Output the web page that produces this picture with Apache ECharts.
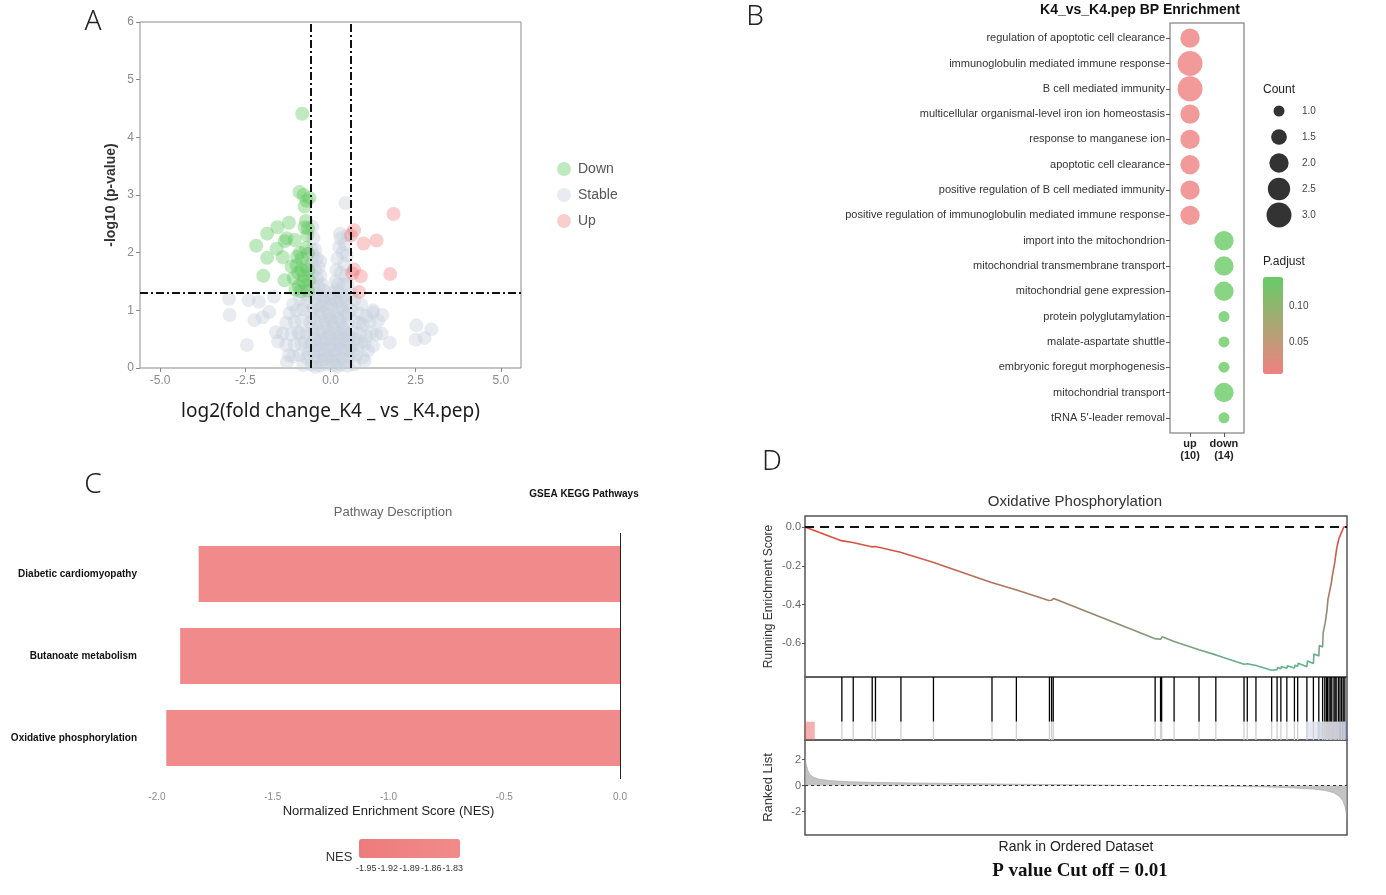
<!DOCTYPE html>
<html>
<head>
<meta charset="utf-8">
<script src="https://cdn.jsdelivr.net/npm/echarts@6/dist/echarts.min.js"></script>
<style>
  html, body { margin: 0; padding: 0; background: #fff; }
  #main { width: 1386px; height: 895px; }
</style>
</head>
<body>
<div id="main"></div>
<script>
// ---- A: volcano, [log2FC, -log10 p] ----
const downPoints = [
  [-0.83, 4.41], [-0.91, 3.05], [-0.79, 3.0], [-0.7, 2.9], [-0.62, 2.95], [-0.76, 2.8],
  [-1.56, 2.44], [-1.86, 2.33], [-1.22, 2.52], [-0.72, 2.55], [-0.66, 2.42], [-0.76, 2.44],
  [-1.29, 2.25], [-1.05, 2.22], [-2.18, 2.12], [-1.58, 2.07], [-1.4, 1.92], [-1.86, 1.91],
  [-1.97, 1.6], [-1.35, 1.52], [-1.0, 1.78], [-0.84, 1.9], [-0.72, 2.08], [-1.08, 1.56],
  [-0.93, 1.42], [-0.78, 1.6], [-0.72, 1.76], [-0.66, 1.98], [-0.98, 1.93], [-0.72, 1.44],
  [-0.63, 1.52], [-0.88, 1.33], [-1.03, 1.36], [-0.66, 1.34], [-1.14, 1.76], [-1.34, 2.2],
  [-0.85, 1.7], [-0.95, 1.65], [-0.8, 1.5], [-0.65, 1.7], [-0.9, 2.0], [-0.68, 2.3]
];
const upPoints = [
  [1.85, 2.67], [0.69, 2.39], [0.6, 2.3], [0.97, 2.16], [1.35, 2.21],
  [0.69, 1.71], [0.89, 1.59], [1.75, 1.63], [0.84, 1.32], [0.64, 1.64]
];
const stablePoints = [
  [-2.98, 1.2], [-2.96, 0.92], [-2.4, 1.18], [-2.1, 1.15], [-1.66, 1.24], [-2.23, 0.83],
  [-1.99, 0.88], [-1.8, 0.97], [-2.45, 0.4], [-1.6, 0.62], [-1.54, 0.46], [-1.22, 0.22],
  [-1.28, 0.1], [2.52, 0.74], [2.96, 0.67], [2.5, 0.49], [2.76, 0.52], [1.74, 0.44],
  [1.24, 0.96], [1.52, 0.92], [1.34, 0.58], [0.86, 0.78], [1.1, 0.3], [1.0, 0.12],
  [0.44, 2.86], [0.28, 2.33], [-0.53, 2.45], [0.5, 2.3],
  [-0.5, 2.25], [-0.45, 2.05], [-0.4, 1.9], [-0.35, 1.75], [-0.3, 1.6], [-0.25, 1.45],
  [-0.5, 1.95], [-0.45, 1.7], [-0.4, 1.55], [-0.55, 1.6], [-0.5, 1.4], [-0.35, 1.4],
  [-0.2, 1.35], [-0.55, 2.05], [-0.3, 1.85], [-0.55, 1.8],
  [0.3, 2.25], [0.25, 2.1], [0.2, 1.9], [0.17, 1.7], [0.15, 1.5], [0.35, 2.0], [0.4, 1.8],
  [0.45, 1.6], [0.3, 1.65], [0.22, 1.45], [0.5, 1.45], [0.38, 1.45], [0.42, 2.15],
  [0.48, 1.95], [0.15, 1.35],
  [-0.9, 1.2], [-0.7, 1.15], [-0.45, 1.2], [-0.2, 1.22], [0, 1.2], [0.2, 1.15], [0.45, 1.2],
  [0.7, 1.18], [0.9, 1.1], [-1.1, 1.1],
  [-1.2, 0.95], [-1.0, 1.0], [-0.8, 1.02], [-0.6, 0.98], [-0.35, 1.0], [-0.1, 1.05],
  [0.1, 0.98], [0.35, 1.02], [0.6, 1.0], [0.85, 0.95], [1.05, 0.9], [1.25, 1.0],
  [-1.3, 0.78], [-1.05, 0.8], [-0.85, 0.82], [-0.6, 0.8], [-0.4, 0.78], [-0.15, 0.82],
  [0.05, 0.8], [0.3, 0.8], [0.5, 0.78], [0.75, 0.8], [0.95, 0.75], [1.15, 0.8], [1.4, 0.82],
  [-1.4, 0.6], [-1.15, 0.58], [-0.95, 0.62], [-0.7, 0.6], [-0.5, 0.6], [-0.25, 0.62],
  [0, 0.6], [0.25, 0.6], [0.45, 0.58], [0.65, 0.62], [0.85, 0.6], [1.05, 0.55], [1.2, 0.62],
  [1.5, 0.6],
  [-1.3, 0.4], [-1.05, 0.4], [-0.85, 0.42], [-0.6, 0.38], [-0.4, 0.4], [-0.2, 0.42],
  [0.0, 0.4], [0.2, 0.4], [0.4, 0.42], [0.6, 0.38], [0.8, 0.4], [1.0, 0.42], [1.25, 0.38],
  [-1.1, 0.2], [-0.9, 0.22], [-0.7, 0.18], [-0.45, 0.2], [-0.25, 0.22], [-0.05, 0.2],
  [0.15, 0.22], [0.35, 0.18], [0.55, 0.2], [0.75, 0.22], [0.95, 0.18],
  [-0.8, 0.05], [-0.55, 0.06], [-0.3, 0.04], [-0.1, 0.06], [0.1, 0.05], [0.3, 0.06],
  [0.5, 0.04], [0.7, 0.06],
  [-0.45, 1.3], [-0.3, 1.25], [-0.15, 1.15], [0.05, 1.3], [0.25, 1.3], [0.4, 1.25],
  [-0.3, 0.9], [-0.05, 0.92], [0.2, 0.9], [0.45, 0.9], [-0.45, 0.5], [-0.15, 0.5],
  [0.1, 0.5], [0.35, 0.5], [-0.35, 0.3], [-0.1, 0.3], [0.15, 0.3], [0.45, 0.3],
  [-0.2, 0.7], [0.1, 0.7], [0.35, 0.7], [-0.4, 1.1], [0.25, 1.05], [-0.25, 0.12], [0.2, 0.12],
  [-0.5, 1.05], [-0.25, 1.08], [0.0, 1.1], [0.12, 1.2], [0.32, 1.15], [0.5, 1.08],
  [-0.5, 0.85], [-0.25, 0.95], [0.0, 0.85], [0.25, 0.85], [0.5, 0.95], [-0.55, 0.7],
  [-0.35, 0.65], [-0.1, 0.72], [0.15, 0.62], [0.4, 0.66], [0.55, 0.55], [-0.55, 0.45],
  [-0.3, 0.48], [-0.05, 0.52], [0.25, 0.45], [0.5, 0.47], [-0.5, 0.28], [-0.2, 0.32],
  [0.05, 0.3], [0.3, 0.33], [0.55, 0.3], [-0.4, 0.12], [-0.15, 0.15], [0.05, 0.12],
  [0.4, 0.1], [-0.45, 0.02], [0.2, 0.02], [-0.65, 1.25], [0.62, 1.28], [-0.75, 0.45],
  [0.7, 0.5], [-0.9, 0.6], [0.9, 0.45], [-0.65, 0.25], [0.65, 0.28]
];
const fcCut = 0.585;
const pCut = 1.301;
const volcanoTicks = [-5, -2.5, 0, 2.5, 5];

// ---- B: BP enrichment dot plot ----
const bpTerms = [
  'regulation of apoptotic cell clearance',
  'immunoglobulin mediated immune response',
  'B cell mediated immunity',
  'multicellular organismal-level iron ion homeostasis',
  'response to manganese ion',
  'apoptotic cell clearance',
  'positive regulation of B cell mediated immunity',
  'positive regulation of immunoglobulin mediated immune response',
  'import into the mitochondrion',
  'mitochondrial transmembrane transport',
  'mitochondrial gene expression',
  'protein polyglutamylation',
  'malate-aspartate shuttle',
  'embryonic foregut morphogenesis',
  'mitochondrial transport',
  "tRNA 5'-leader removal"
];
const bpGroup = [0, 0, 0, 0, 0, 0, 0, 0, 1, 1, 1, 1, 1, 1, 1, 1];
const bpCount = [2, 3, 3, 2, 2, 2, 2, 2, 2, 2, 2, 1, 1, 1, 2, 1];
const bpPadj = [0.008, 0.008, 0.008, 0.008, 0.008, 0.008, 0.008, 0.008,
                0.138, 0.138, 0.138, 0.138, 0.138, 0.138, 0.138, 0.138];
const bpGroups = ['up\n(10)', 'down\n(14)'];
const countLevels = ['1.0', '1.5', '2.0', '2.5', '3.0'];
const padjTicks = [0.10, 0.05];
const padjMin = 0.0057, padjMax = 0.141;

// ---- C: GSEA KEGG bars ----
const pathways = ['Diabetic cardiomyopathy', 'Butanoate metabolism', 'Oxidative phosphorylation'];
const nesValues = [-1.82, -1.90, -1.96];
const nesLegendTicks = [-1.95, -1.92, -1.89, -1.86, -1.83];
const nesMin = -1.96, nesMax = -1.82;

// ---- D: GSEA running score ----
const esCurve = [
  [0, 0], [67, -0.07], [68, -0.062], [88, -0.08], [89, -0.072], [123, -0.102], [124, -0.095],
  [130, -0.1], [131, -0.093], [176, -0.13], [177, -0.123], [236, -0.182], [237, -0.175],
  [344, -0.286], [345, -0.279], [389, -0.323], [390, -0.316], [450, -0.379], [451, -0.373],
  [455, -0.377], [456, -0.371], [458, -0.374], [459, -0.368], [645, -0.575], [646, -0.568],
  [656, -0.578], [657, -0.571], [658, -0.573], [659, -0.566], [681, -0.59], [682, -0.583],
  [727, -0.633], [728, -0.626], [758, -0.659], [759, -0.652], [810, -0.707], [811, -0.699],
  [816, -0.705], [817, -0.697], [832, -0.714], [833, -0.706], [861, -0.738], [862, -0.728],
  [871, -0.735], [872, -0.724], [878, -0.731], [879, -0.719], [889, -0.728], [890, -0.715],
  [903, -0.727], [904, -0.712], [909, -0.718], [910, -0.702], [926, -0.72], [927, -0.69],
  [938, -0.703], [939, -0.655], [948, -0.665], [949, -0.61], [955, -0.618], [956, -0.545],
  [959, -0.55], [960, -0.49], [962, -0.494], [963, -0.43], [964, -0.434], [965, -0.37],
  [967, -0.374], [968, -0.33], [970, -0.334], [971, -0.29], [972, -0.294], [973, -0.25],
  [976, -0.255], [977, -0.19], [978, -0.194], [979, -0.15], [980, -0.154], [981, -0.11],
  [984, -0.115], [985, -0.06], [987, -0.064], [988, -0.04], [990, -0.044], [991, -0.02],
  [993, -0.024], [994, 0], [1000, 0]
];
const hitRanks = [
  68, 89, 124, 130, 177, 237, 345, 390, 451, 455, 458, 646, 656, 658, 681, 727, 758,
  810, 816, 832, 861, 871, 878, 889, 903, 909, 926, 938, 948, 955, 959, 962, 964, 967,
  970, 972, 976, 978, 980, 984, 987, 990, 993, 996
];
// [start rank, end rank, ranked metric]
const bandSegments = [[0, 18, 1.5], [925, 945, -0.5], [945, 965, -0.8], [965, 985, -1.2], [985, 1000, -2.0]];
const rankedList = [
  [0, 2.3], [2, 1.7], [5, 1.2], [9, 0.85], [15, 0.65], [25, 0.5], [45, 0.38], [80, 0.3],
  [120, 0.25], [200, 0.2], [300, 0.15], [400, 0.1], [500, 0.06], [600, 0.02], [700, -0.02],
  [780, -0.06], [850, -0.11], [900, -0.18], [940, -0.28], [960, -0.38], [975, -0.55],
  [985, -0.8], [992, -1.15], [996, -1.6], [998, -2.0], [1000, -2.6]
];
const esTicks = [-0.6, -0.4, -0.2, 0];
const rankTicks = [-2, 0, 2];

const chart = echarts.init(document.getElementById('main'));
const FONT = 'Liberation Sans';
const tickGray = '#8a8a8a';

// colorbar geometry (B and C legends)
const padjBar = { left: 1263, top: 277, width: 20, height: 97 };
const nesBar = { left: 359, top: 839, width: 101, height: 19 };

function panelLetter(t, x, y) {
  return { type: 'text', x: x, y: y, style: { text: t, fontSize: 28, fontFamily: 'Noto Sans', fontWeight: 300, fill: '#222', align: 'center', verticalAlign: 'middle' } };
}
function label(t, x, y, size, extra) {
  return { type: 'text', x: x, y: y, style: Object.assign({ text: t, fontSize: size, fontFamily: FONT, fill: '#222', align: 'center', verticalAlign: 'middle' }, extra || {}) };
}

const graphics = [
  panelLetter('A', 93, 22), panelLetter('B', 755, 17), panelLetter('C', 93, 485), panelLetter('D', 772, 462),
  label('K4_vs_K4.pep BP Enrichment', 1140, 10, 14, { fontWeight: 'bold', fill: '#111' }),
  label('Count', 1263, 90, 12, { align: 'left', fill: '#222' }),
  label('P.adjust', 1263, 262, 12, { align: 'left', fill: '#222' }),
  label('GSEA KEGG Pathways', 584, 494, 10, { fontWeight: 'bold', fill: '#111' }),
  label('Pathway Description', 393, 512, 13, { fill: '#666' }),
  label('NES', 339, 857, 13, { fill: '#333' }),
  label('Oxidative Phosphorylation', 1075, 502, 15, { fill: '#333' }),
  label('P value Cut off = 0.01', 1080, 871, 19, { fontWeight: 'bold', fontFamily: 'Liberation Serif', fill: '#111' })
];
padjTicks.forEach(v => {
  const y = padjBar.top + (padjMax - v) / (padjMax - padjMin) * padjBar.height;
  graphics.push(label(v.toFixed(2), padjBar.left + padjBar.width + 6, y, 10, { align: 'left', fill: '#444' }));
  graphics.push({ type: 'line', shape: { x1: padjBar.left, y1: y, x2: padjBar.left + 4, y2: y }, style: { stroke: '#fff', lineWidth: 1 } });
  graphics.push({ type: 'line', shape: { x1: padjBar.left + padjBar.width - 4, y1: y, x2: padjBar.left + padjBar.width, y2: y }, style: { stroke: '#fff', lineWidth: 1 } });
});
nesLegendTicks.forEach(v => {
  const x = nesBar.left + (v - nesMin) / (nesMax - nesMin) * nesBar.width;
  graphics.push(label(v.toFixed(2), x, 869, 9, { fill: '#333' }));
  graphics.push({ type: 'line', shape: { x1: x, y1: nesBar.top, x2: x, y2: nesBar.top + 4 }, style: { stroke: '#fff', lineWidth: 1 } });
  graphics.push({ type: 'line', shape: { x1: x, y1: nesBar.top + nesBar.height - 4, x2: x, y2: nesBar.top + nesBar.height }, style: { stroke: '#fff', lineWidth: 1 } });
});

function renderBand(params, api) {
  const a = api.coord([api.value(0), 0.29]);
  const b = api.coord([api.value(1), 0]);
  const m = api.value(2);
  const alpha = Math.min(0.7, Math.abs(m) * 0.3);
  const fill = m > 0 ? 'rgba(230,80,80,' + alpha + ')' : 'rgba(80,100,190,' + alpha + ')';
  return { type: 'rect', shape: { x: a[0], y: a[1], width: b[0] - a[0], height: b[1] - a[1] }, style: { fill: fill } };
}
function renderHit(params, api) {
  const x = api.value(0);
  const top = api.coord([x, 1]);
  const mid = api.coord([x, 0.29]);
  const bot = api.coord([x, 0]);
  return {
    type: 'group',
    children: [
      { type: 'line', shape: { x1: top[0], y1: top[1], x2: mid[0], y2: mid[1] }, style: { stroke: '#000', lineWidth: 1.3 } },
      { type: 'line', shape: { x1: mid[0], y1: mid[1], x2: bot[0], y2: bot[1] }, style: { stroke: '#cfcfcf', lineWidth: 1.3 } }
    ]
  };
}

const termIdx = bpTerms.map((t, i) => i);
const noLine = { show: false, onZero: false };

const option = {
  animation: false,
  backgroundColor: '#fff',
  textStyle: { fontFamily: FONT },
  graphic: graphics,
  legend: {
    data: ['Down', 'Stable', 'Up'],
    orient: 'vertical',
    left: 552, top: 157,
    itemWidth: 14, itemHeight: 14, itemGap: 12,
    icon: 'circle',
    textStyle: { color: '#555', fontSize: 14, fontFamily: FONT, padding: [0, 0, 0, 2] }
  },
  grid: [
    { left: 140, top: 22, width: 381, height: 346, show: true, borderColor: '#8c8c8c', borderWidth: 1 },
    { left: 1170, top: 23, width: 74, height: 410, show: true, borderColor: '#999', borderWidth: 1.5 },
    { left: 1269, top: 111, width: 20, height: 104 },
    { left: 157, top: 533, width: 463, height: 246 },
    { left: 805, top: 516, width: 542, height: 161, show: true, borderColor: '#555', borderWidth: 1.5 },
    { left: 805, top: 677, width: 542, height: 63, show: true, borderColor: '#555', borderWidth: 1.5 },
    { left: 805, top: 740, width: 542, height: 95, show: true, borderColor: '#555', borderWidth: 1.5 }
  ],
  xAxis: [
    {
      gridIndex: 0, type: 'value', min: -5.59, max: 5.59,
      splitLine: { show: false }, axisLine: noLine,
      axisTick: { show: true, customValues: volcanoTicks, length: 4, lineStyle: { color: '#888' } },
      axisLabel: { customValues: volcanoTicks, formatter: v => v.toFixed(1), color: tickGray, fontSize: 12, margin: 7 },
      name: 'log2(fold change_K4 _ vs _K4.pep)', nameLocation: 'middle', nameGap: 34,
      nameTextStyle: { fontSize: 19, color: '#1a1a1a', fontFamily: 'Noto Sans' }
    },
    {
      gridIndex: 1, type: 'value', min: -0.59, max: 1.59,
      splitLine: { show: false }, axisLine: noLine,
      axisTick: { show: true, customValues: [0, 1], length: 4, lineStyle: { color: '#555' } },
      axisLabel: { customValues: [0, 1], formatter: v => bpGroups[v], fontWeight: 'bold', fontSize: 11, color: '#222', lineHeight: 12, margin: 5 }
    },
    { gridIndex: 2, type: 'value', min: 0, max: 1, show: false },
    {
      gridIndex: 3, type: 'value', min: -2, max: 0, interval: 0.5,
      splitLine: { show: false }, axisLine: noLine, axisTick: { show: false },
      axisLabel: { formatter: v => v.toFixed(1), color: tickGray, fontSize: 10, margin: 13 },
      name: 'Normalized Enrichment Score (NES)', nameLocation: 'middle', nameGap: 26,
      nameTextStyle: { fontSize: 13, color: '#222' }
    },
    { gridIndex: 4, type: 'value', min: 0, max: 1000, show: false },
    { gridIndex: 5, type: 'value', min: 0, max: 1000, show: false },
    {
      gridIndex: 6, type: 'value', min: 0, max: 1000,
      splitLine: { show: false }, axisLine: noLine, axisTick: { show: false }, axisLabel: { show: false },
      name: 'Rank in Ordered Dataset', nameLocation: 'middle', nameGap: 5,
      nameTextStyle: { fontSize: 14, color: '#222' }
    }
  ],
  yAxis: [
    {
      gridIndex: 0, type: 'value', min: 0, max: 6, interval: 1,
      splitLine: { show: false }, axisLine: noLine,
      axisTick: { show: true, length: 4, lineStyle: { color: '#888' } },
      axisLabel: { color: tickGray, fontSize: 12, margin: 6 },
      name: '-log10 (p-value)', nameLocation: 'middle', nameRotate: 90, nameGap: 22,
      nameTextStyle: { fontSize: 14, fontWeight: 'bold', color: '#333' }
    },
    {
      gridIndex: 1, type: 'value', inverse: true, min: -0.6, max: 15.6,
      splitLine: { show: false }, axisLine: noLine,
      axisTick: { show: true, customValues: termIdx, length: 4, lineStyle: { color: '#555' } },
      axisLabel: { customValues: termIdx, formatter: v => bpTerms[v], fontSize: 11, color: '#333', margin: 5 }
    },
    {
      gridIndex: 2, type: 'category', data: countLevels, inverse: true, boundaryGap: false, position: 'right',
      axisLine: noLine, axisTick: { show: false },
      axisLabel: { fontSize: 10, color: '#444', margin: 13 }
    },
    {
      gridIndex: 3, type: 'category', data: pathways, inverse: true,
      axisLine: noLine, axisTick: { show: false },
      axisLabel: { fontWeight: 'bold', fontSize: 10, color: '#111', margin: 20 }
    },
    {
      gridIndex: 4, type: 'value', min: -0.773, max: 0.057,
      splitLine: { show: false }, axisLine: noLine,
      axisTick: { show: true, customValues: esTicks, length: 3, lineStyle: { color: '#555' } },
      axisLabel: { customValues: esTicks, formatter: v => v.toFixed(1), color: '#666', fontSize: 11, margin: 4 },
      name: 'Running Enrichment Score', nameLocation: 'middle', nameRotate: 90, nameGap: 30,
      nameTextStyle: { fontSize: 12, color: '#333' }
    },
    { gridIndex: 5, type: 'value', min: 0, max: 1, show: false },
    {
      gridIndex: 6, type: 'value', min: -3.8, max: 3.5,
      splitLine: { show: false }, axisLine: noLine,
      axisTick: { show: true, customValues: rankTicks, length: 3, lineStyle: { color: '#555' } },
      axisLabel: { customValues: rankTicks, color: '#666', fontSize: 11, margin: 4 },
      name: 'Ranked List', nameLocation: 'middle', nameRotate: 90, nameGap: 30,
      nameTextStyle: { fontSize: 13, color: '#333' }
    }
  ],
  visualMap: [
    {
      type: 'continuous', seriesIndex: 3, dimension: 3, min: padjMin, max: padjMax,
      inRange: { color: ['#f08080', '#66cc66'] },
      left: padjBar.left, top: padjBar.top, itemWidth: padjBar.width, itemHeight: padjBar.height,
      calculable: false, padding: 0, hoverLink: false
    },
    {
      type: 'continuous', seriesIndex: 5, min: nesMin, max: nesMax,
      inRange: { color: ['#ee7b7b', '#f18b8b'] }, orient: 'horizontal',
      left: nesBar.left, top: nesBar.top, itemWidth: nesBar.height, itemHeight: nesBar.width,
      calculable: false, padding: 0, hoverLink: false
    },
    {
      type: 'continuous', seriesIndex: 6, dimension: 1, min: -0.74, max: 0, show: false,
      inRange: { color: ['#5fb58d', '#e8453b'] }
    }
  ],
  series: [
    {
      name: 'Stable', type: 'scatter', xAxisIndex: 0, yAxisIndex: 0, data: stablePoints,
      symbolSize: 14, itemStyle: { color: 'rgba(198,207,219,0.5)' },
      markLine: {
        silent: true, symbol: 'none', label: { show: false },
        lineStyle: { color: '#111', type: [8, 3, 2, 3], width: 2 },
        data: [{ xAxis: -fcCut }, { xAxis: fcCut }, { yAxis: pCut }]
      }
    },
    {
      name: 'Down', type: 'scatter', xAxisIndex: 0, yAxisIndex: 0, data: downPoints,
      symbolSize: 14, itemStyle: { color: 'rgba(96,200,96,0.5)' }
    },
    {
      name: 'Up', type: 'scatter', xAxisIndex: 0, yAxisIndex: 0, data: upPoints,
      symbolSize: 14, itemStyle: { color: 'rgba(240,120,120,0.45)' }
    },
    {
      name: 'BP', type: 'scatter', xAxisIndex: 1, yAxisIndex: 1,
      data: bpTerms.map((t, i) => [bpGroup[i], i, bpCount[i], bpPadj[i]]),
      symbolSize: v => Math.sqrt(252 * v[2] - 131)
    },
    {
      name: 'Count', type: 'scatter', xAxisIndex: 2, yAxisIndex: 2,
      data: countLevels.map(c => [0.5, c, +c]),
      symbolSize: v => Math.sqrt(252 * v[2] - 131), itemStyle: { color: '#000' }
    },
    {
      name: 'NES', type: 'bar', xAxisIndex: 3, yAxisIndex: 3, data: nesValues, barWidth: 56,
      markLine: {
        silent: true, symbol: 'none', label: { show: false },
        lineStyle: { color: '#222', type: 'solid', width: 1 }, data: [{ xAxis: 0 }]
      }
    },
    {
      name: 'ES', type: 'line', xAxisIndex: 4, yAxisIndex: 4, data: esCurve,
      showSymbol: false, lineStyle: { width: 1.6 },
      markLine: {
        silent: true, symbol: 'none', label: { show: false },
        lineStyle: { color: '#111', type: [9, 6], width: 2 }, data: [{ yAxis: 0 }]
      }
    },
    { name: 'band', type: 'custom', xAxisIndex: 5, yAxisIndex: 5, data: bandSegments, renderItem: renderBand },
    { name: 'hits', type: 'custom', xAxisIndex: 5, yAxisIndex: 5, data: hitRanks.map(r => [r]), renderItem: renderHit },
    {
      name: 'ranked', type: 'line', xAxisIndex: 6, yAxisIndex: 6, data: rankedList,
      showSymbol: false, lineStyle: { width: 0.5, color: '#999' }, itemStyle: { color: '#999' },
      areaStyle: { color: '#aaa' },
      markLine: {
        silent: true, symbol: 'none', label: { show: false },
        lineStyle: { color: '#333', type: [3, 3], width: 1 }, data: [{ yAxis: 0 }]
      }
    }
  ]
};
chart.setOption(option);
</script>
</body>
</html>
